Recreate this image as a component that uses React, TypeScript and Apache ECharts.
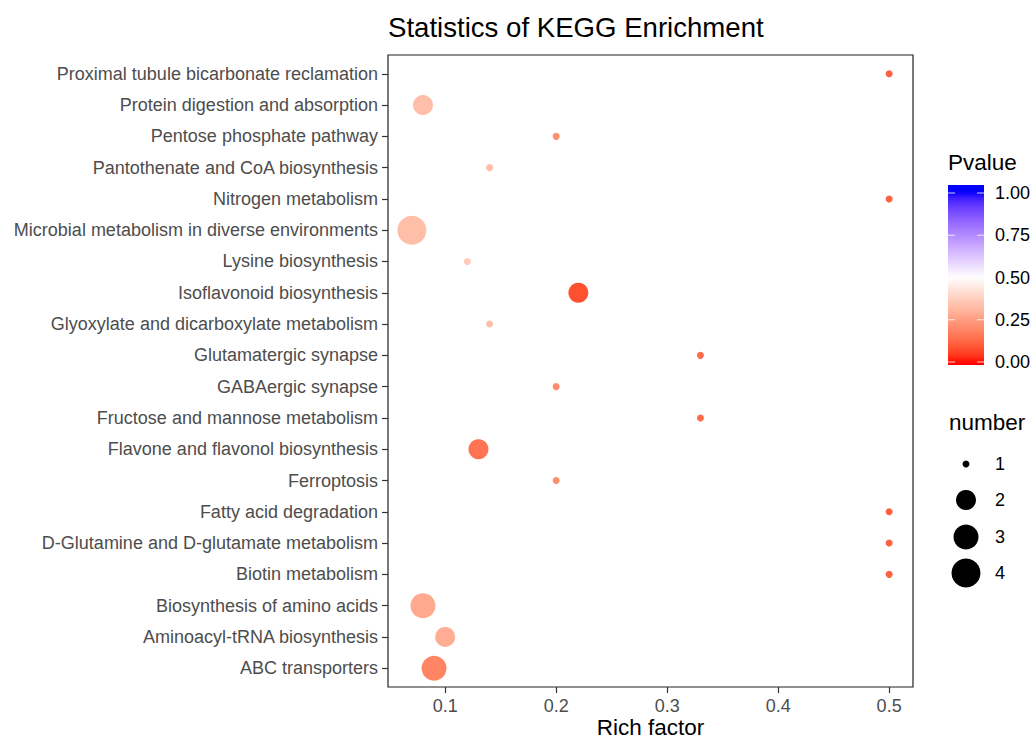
import React, { useEffect, useRef } from "react";
import * as echarts from "echarts";

// ---- data (top to bottom as shown) ----
const pathways: string[] = [
  "Proximal tubule bicarbonate reclamation",
  "Protein digestion and absorption",
  "Pentose phosphate pathway",
  "Pantothenate and CoA biosynthesis",
  "Nitrogen metabolism",
  "Microbial metabolism in diverse environments",
  "Lysine biosynthesis",
  "Isoflavonoid biosynthesis",
  "Glyoxylate and dicarboxylate metabolism",
  "Glutamatergic synapse",
  "GABAergic synapse",
  "Fructose and mannose metabolism",
  "Flavone and flavonol biosynthesis",
  "Ferroptosis",
  "Fatty acid degradation",
  "D-Glutamine and D-glutamate metabolism",
  "Biotin metabolism",
  "Biosynthesis of amino acids",
  "Aminoacyl-tRNA biosynthesis",
  "ABC transporters",
];
const richFactor: number[] = [
  0.5, 0.08, 0.2, 0.14, 0.5, 0.07, 0.12, 0.22, 0.14, 0.33,
  0.2, 0.33, 0.13, 0.2, 0.5, 0.5, 0.5, 0.08, 0.1, 0.09,
];
const geneNumber: number[] = [
  1, 2, 1, 1, 1, 4, 1, 2, 1, 1,
  1, 1, 2, 1, 1, 1, 1, 3, 2, 3,
];
const pValue: number[] = [
  0.11, 0.33, 0.21, 0.33, 0.11, 0.33, 0.36, 0.08, 0.33, 0.13,
  0.21, 0.13, 0.15, 0.21, 0.11, 0.11, 0.11, 0.28, 0.29, 0.19,
];
const xTicks: number[] = [0.1, 0.2, 0.3, 0.4, 0.5];
const pTicks: number[] = [0, 0.25, 0.5, 0.75, 1];
const sizeLevels: number[] = [1, 2, 3, 4];

// ---- styles ----
const SIZE_PX: Record<number, number> = { 1: 7, 2: 20, 3: 25, 4: 29 };
const FONT = "'Liberation Sans', Arial, Helvetica, sans-serif";

// Lab interpolation (like ggplot's gradient2: red - white - blue)
function toLin(c: number) {
  c /= 255;
  return c <= 0.04045 ? c / 12.92 : Math.pow((c + 0.055) / 1.055, 2.4);
}
function fromLin(c: number) {
  c = Math.max(0, Math.min(1, c));
  const v = c <= 0.0031308 ? 12.92 * c : 1.055 * Math.pow(c, 1 / 2.4) - 0.055;
  return Math.round(v * 255);
}
const XN = 0.95047, ZN = 1.08883;
function rgbToLab(rgb: number[]) {
  const [R, G, B] = rgb.map(toLin);
  const X = (0.4124 * R + 0.3576 * G + 0.1805 * B) / XN;
  const Y = 0.2126 * R + 0.7152 * G + 0.0722 * B;
  const Z = (0.0193 * R + 0.1192 * G + 0.9505 * B) / ZN;
  const f = (t: number) => (t > 0.008856 ? Math.cbrt(t) : 7.787 * t + 16 / 116);
  const fx = f(X), fy = f(Y), fz = f(Z);
  return [116 * fy - 16, 500 * (fx - fy), 200 * (fy - fz)];
}
function labToRgb(lab: number[]) {
  const [L, a, b] = lab;
  const fy = (L + 16) / 116;
  const fx = fy + a / 500;
  const fz = fy - b / 200;
  const inv = (f: number) => (f * f * f > 0.008856 ? f * f * f : (f - 16 / 116) / 7.787);
  const X = XN * inv(fx), Y = inv(fy), Z = ZN * inv(fz);
  const R = 3.2406 * X - 1.5372 * Y - 0.4986 * Z;
  const G = -0.9689 * X + 1.8758 * Y + 0.0415 * Z;
  const B = 0.0557 * X - 0.204 * Y + 1.057 * Z;
  return `rgb(${fromLin(R)},${fromLin(G)},${fromLin(B)})`;
}
const LOW = rgbToLab([255, 0, 0]);
const MID = rgbToLab([255, 255, 255]);
const HIGH = rgbToLab([0, 0, 255]);
function pColor(p: number) {
  p = Math.max(0, Math.min(1, p));
  let a = LOW, b = MID, t = p / 0.5;
  if (p > 0.5) { a = MID; b = HIGH; t = (p - 0.5) / 0.5; }
  return labToRgb([0, 1, 2].map((i) => a[i] + (b[i] - a[i]) * t));
}
const colorStops: string[] = [];
for (let i = 0; i <= 40; i++) colorStops.push(pColor(i / 40));

export default function App() {
  const ref = useRef<HTMLDivElement>(null);
  useEffect(() => {
    if (!ref.current) return;
    const chart = echarts.init(ref.current, null, { renderer: "svg" });
    const N = pathways.length;
    const data = pathways.map((name, i) => ({
      name,
      value: [richFactor[i], N - i, pValue[i], geneNumber[i]],
    }));

    // colorbar geometry
    const cbX = 948, cbTop = 185, cbW = 36, cbH = 180;
    const y1 = 193, y0 = 362; // positions of p = 1 and p = 0
    const pAt = (y: number) => (y0 - y) / (y0 - y1);
    const gradStops = [];
    for (let i = 0; i <= 40; i++) {
      const y = cbTop + (cbH * i) / 40;
      gradStops.push({ offset: i / 40, color: pColor(pAt(y)) });
    }
    const graphics: any[] = [
      {
        type: "text", left: 948, top: 151,
        style: { text: "Pvalue", font: `22.5px ${FONT}`, fill: "#000" },
      },
      {
        type: "rect", shape: { x: cbX, y: cbTop, width: cbW, height: cbH },
        style: {
          fill: { type: "linear", x: 0, y: 0, x2: 0, y2: 1, colorStops: gradStops },
        },
      },
    ];
    pTicks.forEach((p) => {
      const y = y0 - (y0 - y1) * p;
      graphics.push(
        { type: "line", shape: { x1: cbX, y1: y, x2: cbX + 7, y2: y }, style: { stroke: "rgba(255,255,255,0.8)", lineWidth: 1 } },
        { type: "line", shape: { x1: cbX + cbW - 7, y1: y, x2: cbX + cbW, y2: y }, style: { stroke: "rgba(255,255,255,0.8)", lineWidth: 1 } },
        {
          type: "text", x: 995, y,
          style: { text: p.toFixed(2), font: `18px ${FONT}`, fill: "#000", verticalAlign: "middle" },
        }
      );
    });
    graphics.push({
      type: "text", left: 949, top: 411,
      style: { text: "number", font: `22.5px ${FONT}`, fill: "#000" },
    });
    const sizeY = [464, 500, 537, 573];
    sizeLevels.forEach((n, i) => {
      graphics.push(
        { type: "circle", shape: { cx: 966, cy: sizeY[i], r: SIZE_PX[n] / 2 }, style: { fill: "#000" } },
        {
          type: "text", x: 995, y: sizeY[i],
          style: { text: String(n), font: `18px ${FONT}`, fill: "#000", verticalAlign: "middle" },
        }
      );
    });

    chart.setOption({
      animation: false,
      backgroundColor: "#fff",
      textStyle: { fontFamily: FONT },
      title: {
        text: "Statistics of KEGG Enrichment",
        left: 388, top: 13, padding: 0,
        textStyle: { fontSize: 27.6, fontWeight: "normal", color: "#000", fontFamily: FONT },
      },
      grid: {
        left: 388, top: 55, width: 525, height: 632,
        show: true, borderColor: "#222", borderWidth: 1.2, backgroundColor: "#fff",
        containLabel: false,
        outerBoundsMode: "none",
      },
      xAxis: {
        type: "value", min: 0.0485, max: 0.5215,
        name: "Rich factor", nameLocation: "middle", nameGap: 29,
        nameMoveOverlap: false,
        nameTextStyle: { fontSize: 22.5, color: "#000", fontFamily: FONT },
        axisLine: { show: false },
        splitLine: { show: false },
        axisTick: { show: true, length: 6, lineStyle: { color: "#333", width: 1.2 }, customValues: xTicks },
        axisLabel: {
          customValues: xTicks, margin: 10, fontSize: 18, color: "#4d4d4d", fontFamily: FONT,
          formatter: (v: number) => String(Math.round(v * 10) / 10),
        },
      },
      yAxis: {
        type: "value", min: 0.4, max: pathways.length + 0.6,
        axisLine: { show: false },
        splitLine: { show: false },
        axisTick: {
          show: true, length: 6, lineStyle: { color: "#333", width: 1.2 },
          customValues: pathways.map((_, i) => i + 1),
        },
        axisLabel: {
          customValues: pathways.map((_, i) => i + 1), margin: 10,
          fontSize: 18, color: "#4d4d4d", fontFamily: FONT,
          formatter: (v: number) => pathways[pathways.length - Math.round(v)] || "",
        },
      },
      visualMap: {
        show: false, type: "continuous", min: 0, max: 1, dimension: 2, seriesIndex: 0,
        inRange: { color: colorStops },
      },
      series: [
        {
          type: "scatter",
          data,
          symbol: "circle",
          symbolSize: (val: number[]) => SIZE_PX[val[3]],
          itemStyle: { opacity: 1 },
        },
      ],
      graphic: graphics,
    });
    return () => chart.dispose();
  }, []);
  return (
    <div
      ref={ref}
      style={{ position: "fixed", left: 0, top: 0, width: 1032, height: 740 }}
    />
  );
}
